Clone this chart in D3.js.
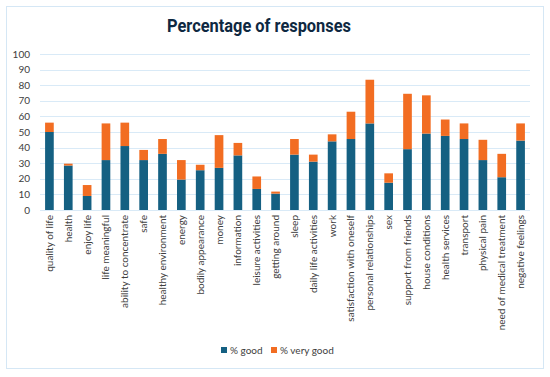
<!DOCTYPE html>
<html>
<head>
<meta charset="utf-8">
<script src="https://cdn.jsdelivr.net/npm/d3@7"></script>
<style>
  body { margin: 0; background: #fff; }
  text { font-family: Lato, "Open Sans", sans-serif; }
</style>
</head>
<body>
<div id="chart"></div>
<script>
const width = 550;
const height = 377;

const categories = [
  "quality of life", "health", "enjoy life", "life meaningful", "ability to concentrate",
  "safe", "healthy environment", "energy", "bodily appearance", "money", "information",
  "leisure activities", "getting around", "sleep", "daily life activities", "work",
  "satisfaction with oneself", "personal relationships", "sex", "support from friends",
  "house conditions", "health services", "transport", "physical pain",
  "need of medical treatment", "negative feelings"
];
const good = [50, 28.5, 9, 32, 41, 32, 36, 19.5, 25.5, 27, 35, 13.5, 10.5, 35.5, 31, 44, 45.5, 55.5, 17.5, 39, 49, 47.5, 45.5, 32, 21, 44.5];
const veryGood = [6, 1.2, 7, 23.5, 15, 6.5, 9.5, 12.5, 3.5, 21, 8, 8, 1.3, 10, 4.5, 4.5, 17.5, 28, 6, 35.5, 24.5, 10.5, 10, 13, 15, 11];
const yTicks = [0, 10, 20, 30, 40, 50, 60, 70, 80, 90, 100];
const seriesNames = ["% good", "% very good"];
const colors = ["#156082", "#f26d22"];

const margin = { top: 54, right: 20, bottom: 167, left: 40 };

const svg = d3.select("#chart").append("svg")
  .attr("width", width)
  .attr("height", height);

// chart frame
svg.append("rect")
  .attr("x", 6.5).attr("y", 6.5)
  .attr("width", 537).attr("height", 362)
  .attr("fill", "#fff")
  .attr("stroke", "#d5e7f5");

svg.append("text")
  .attr("x", 259).attr("y", 32)
  .attr("text-anchor", "middle")
  .attr("fill", "#0e2841")
  .style("font-family", "Roboto, sans-serif")
  .style("font-weight", "700")
  .style("font-size", "18px")
  .attr("textLength", 184)
  .attr("lengthAdjust", "spacingAndGlyphs")
  .text("Percentage of responses");

const x = d3.scaleBand()
  .domain(categories)
  .range([margin.left, 530])
  .paddingInner(0.54)
  .paddingOuter(0.27);

const y = d3.scaleLinear()
  .domain([0, 100])
  .range([210, margin.top]);

// gridlines
svg.append("g")
  .selectAll("line")
  .data(yTicks)
  .join("line")
    .attr("x1", margin.left).attr("x2", 530)
    .attr("y1", d => Math.round(y(d)) + 0.5)
    .attr("y2", d => Math.round(y(d)) + 0.5)
    .attr("stroke", "#d9eaf7");

// y labels
svg.append("g")
  .selectAll("text")
  .data(yTicks)
  .join("text")
    .attr("x", 30)
    .attr("y", d => y(d))
    .attr("dy", "0.35em")
    .attr("text-anchor", "end")
    .attr("fill", "#404040")
    .style("font-size", "10px")
    .text(d => d);

const rows = categories.map((c, i) => ({ cat: c, good: good[i], veryGood: veryGood[i] }));
const stack = d3.stack().keys(["good", "veryGood"])(rows);

svg.append("g")
  .selectAll("g")
  .data(stack)
  .join("g")
    .attr("fill", (d, i) => colors[i])
  .selectAll("rect")
  .data(d => d)
  .join("rect")
    .attr("x", d => x(d.data.cat))
    .attr("width", x.bandwidth())
    .attr("y", d => y(d[1]))
    .attr("height", d => y(d[0]) - y(d[1]));

// x labels, rotated
svg.append("g")
  .selectAll("text")
  .data(categories)
  .join("text")
    .attr("transform", d => `translate(${x(d) + x.bandwidth() / 2 + 3.5},215) rotate(-90)`)
    .attr("text-anchor", "end")
    .attr("fill", "#404040")
    .style("font-size", "10px")
    .text(d => d);

// legend
const legend = svg.append("g");
const legendX = [221, 271];
seriesNames.forEach((name, i) => {
  legend.append("rect")
    .attr("x", legendX[i]).attr("y", 347)
    .attr("width", 6).attr("height", 6)
    .attr("fill", colors[i]);
  legend.append("text")
    .attr("x", legendX[i] + 9).attr("y", 350)
    .attr("dy", "0.35em")
    .attr("fill", "#404040")
    .style("font-size", "10px")
    .text(name);
});
</script>
</body>
</html>
